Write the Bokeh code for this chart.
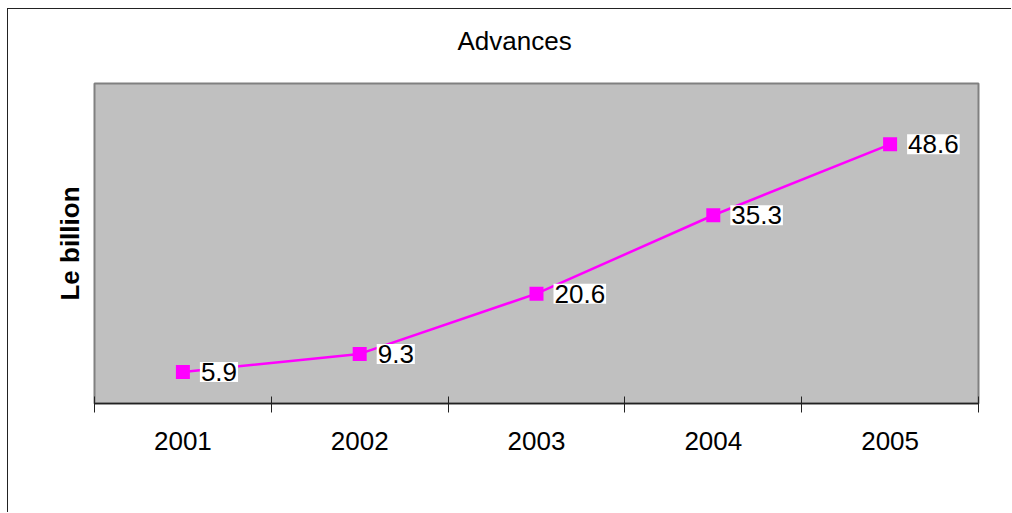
from bokeh.plotting import figure
from bokeh.models import FactorRange, Range1d, LinearAxis, FixedTicker, Title
from bokeh.core.properties import value
from bokeh.embed import file_html
from bokeh.resources import INLINE

years = ["2001", "2002", "2003", "2004", "2005"]
advances = [5.9, 9.3, 20.6, 35.3, 48.6]
labels = ["5.9", "9.3", "20.6", "35.3", "48.6"]
title_text = "Advances"
y_label = "Le billion"

FONT = "Liberation Sans"
MAGENTA = "#FF00FF"

p = figure(
    width=1004, height=504,
    x_range=FactorRange(*years), y_range=Range1d(0, 60),
    x_axis_type=None, y_axis_type=None,
    output_backend="svg", toolbar_location=None,
    min_border_left=86, min_border_right=34, min_border_top=74, min_border_bottom=110,
    title_location=None,
)
p.styles = {"margin-left": "7px", "margin-top": "8px",
            "border-left": "1px solid #222", "border-top": "1px solid #222"}
p.background_fill_color = "#C0C0C0"
p.border_fill_color = "white"
p.outline_line_color = "#808080"
p.outline_line_width = 2
p.xgrid.visible = False
p.ygrid.visible = False

# invisible spacer between the frame and the title
spacer = LinearAxis(ticker=FixedTicker(ticks=[0.5]), major_label_overrides={0.5: ""})
spacer.axis_line_color = None
spacer.major_tick_line_color = None
spacer.minor_tick_line_color = None
spacer.major_tick_in = 0
spacer.major_tick_out = 22
spacer.minor_tick_out = 0
spacer.major_label_standoff = 0
spacer.major_label_text_font_size = "0px"
p.add_layout(spacer, "above")

title = Title(text=title_text, text_font=FONT, text_font_size="26px", text_font_style="normal",
              text_color="black", align="left", offset=363, standoff=11)
p.add_layout(title, "above")

n = len(years)
xaxis = LinearAxis(
    ticker=FixedTicker(ticks=[i + 0.5 for i in range(n)], minor_ticks=list(range(n + 1))),
    major_label_overrides={i + 0.5: y for i, y in enumerate(years)},
)
xaxis.axis_line_color = "#222"
xaxis.axis_line_width = 1.5
xaxis.major_tick_line_color = None
xaxis.major_tick_in = 0
xaxis.major_tick_out = 0
xaxis.minor_tick_line_color = "#222"
xaxis.minor_tick_line_width = 1
xaxis.minor_tick_in = 7
xaxis.minor_tick_out = 9
xaxis.major_label_text_font = FONT
xaxis.major_label_text_font_size = "26px"
xaxis.major_label_text_color = "black"
xaxis.major_label_standoff = 19
p.add_layout(xaxis, "below")

yaxis = LinearAxis(ticker=FixedTicker(ticks=[]))
yaxis.axis_line_color = None
yaxis.major_tick_line_color = None
yaxis.minor_tick_line_color = None
yaxis.major_tick_out = 0
yaxis.major_tick_in = 0
yaxis.axis_label = y_label
yaxis.axis_label_text_font = FONT
yaxis.axis_label_text_font_size = "26px"
yaxis.axis_label_text_font_style = "bold"
yaxis.axis_label_text_color = "black"
yaxis.axis_label_standoff = 10
p.add_layout(yaxis, "left")

p.line(years, advances, line_color=MAGENTA, line_width=2.5)
p.scatter(years, advances, marker="square", size=14, fill_color=MAGENTA, line_color=None)
p.text(years, advances, text=labels, x_offset=17, text_align="left", text_baseline="middle",
       text_font=value(FONT), text_font_size="26px", text_color="black",
       background_fill_color="white", border_line_color=None, padding=1)

open("out.html", "w").write(file_html(p, INLINE))
